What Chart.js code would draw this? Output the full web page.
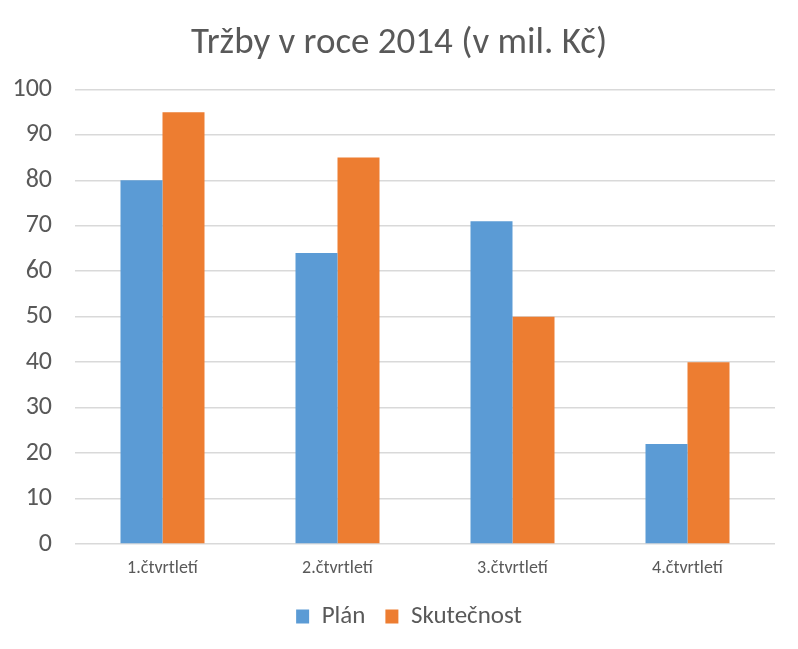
<!DOCTYPE html>
<html>
<head>
<meta charset="utf-8">
<script src="https://cdn.jsdelivr.net/npm/chart.js@4/dist/chart.umd.min.js"></script>
<style>
html,body{margin:0;padding:0;background:#fff;}
#wrap{width:798px;height:649px;}
</style>
</head>
<body>
<div id="wrap"><canvas id="c" width="798" height="649"></canvas></div>
<script>
const categories = ["1.čtvrtletí", "2.čtvrtletí", "3.čtvrtletí", "4.čtvrtletí"];
const planValues = [80, 64, 71, 22];
const skutecnostValues = [95, 85, 50, 40];
const seriesNames = ["Plán", "Skutečnost"];
const titleText = "Tržby v roce 2014 (v mil. Kč)";

const FONT = "Carlito, 'Liberation Sans Narrow', 'Open Sans', sans-serif";
Chart.defaults.font.family = FONT;
Chart.defaults.color = "#595959";

// Center title and legend on the full canvas like the original
const recenter = {
  id: "recenter",
  afterLayout(chart) {
    const t = chart.titleBlock;
    if (t) { t.left = 0; t.right = chart.width; t.width = chart.width; }
    const l = chart.legend;
    if (l) { l.left = 20; l.right = chart.width; l.width = chart.width - 20; l.top -= 8; l.bottom -= 8; }
  }
};

new Chart(document.getElementById("c"), {
  type: "bar",
  data: {
    labels: categories,
    datasets: [
      { label: seriesNames[0], data: planValues, backgroundColor: "#5b9bd5", categoryPercentage: 0.48, barPercentage: 1.0 },
      { label: seriesNames[1], data: skutecnostValues, backgroundColor: "#ed7d31", categoryPercentage: 0.48, barPercentage: 1.0 }
    ]
  },
  plugins: [recenter],
  options: {
    responsive: false,
    animation: false,
    layout: { padding: { left: 0, right: 23, top: 4, bottom: 2 } },
    plugins: {
      title: {
        display: true, text: titleText, color: "#595959",
        font: { size: 37, weight: "normal", family: FONT, lineHeight: 1.2 },
        padding: { top: 18, bottom: 23 }
      },
      legend: {
        position: "bottom",
        labels: {
          color: "#595959", boxWidth: 13, boxHeight: 14, padding: 20,
          font: { size: 25, family: FONT }
        }
      },
      tooltip: { enabled: false }
    },
    scales: {
      x: {
        grid: { display: false, drawTicks: false },
        border: { display: false },
        ticks: { color: "#595959", font: { size: 18, family: FONT, lineHeight: 1.0 }, padding: 15 }
      },
      y: {
        min: 0, max: 100,
        afterFit: (s) => { s.width = 75; },
        grid: { color: "#d9d9d9", lineWidth: 1.5, drawTicks: false },
        border: { display: false },
        ticks: { stepSize: 10, color: "#595959", font: { size: 26, family: FONT }, padding: 23 }
      }
    }
  }
});
</script>
</body>
</html>
